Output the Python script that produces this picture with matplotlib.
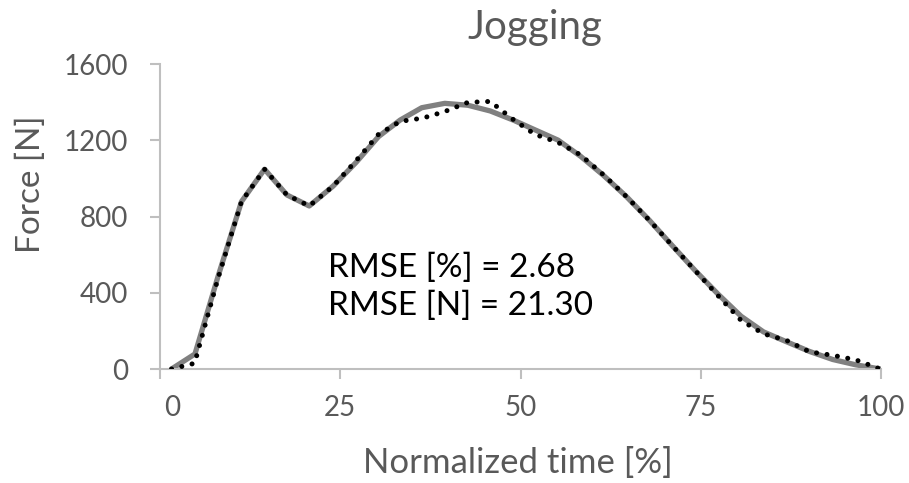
import matplotlib
matplotlib.use("Agg")
import matplotlib.pyplot as plt
import matplotlib.transforms as mtransforms

# Measured (reference) force curve - grey solid
time_measured = [1.6, 4.85, 8.0, 11.3, 14.5, 17.6, 20.7, 24.0, 27.2, 30.3, 33.3, 36.3,
                 39.5, 42.7, 45.8, 49.0, 52.0, 55.2, 58.3, 61.5, 64.7, 67.9, 71.0,
                 74.2, 77.4, 80.6, 83.7, 86.9, 90.1, 93.3, 96.5, 99.9]
force_measured = [0, 79, 480, 879, 1049, 914, 856, 960, 1085, 1220, 1307, 1372,
                  1395, 1385, 1355, 1307, 1256, 1202, 1118, 1017, 905, 780, 650,
                  518, 393, 277, 195, 143, 92, 50, 22, 0]

# Estimated force curve - black dotted
time_estimated = [1.6, 4.8, 8.0, 11.3, 14.5, 17.6, 20.7, 24.0, 27.2, 30.3, 33.3, 36.5,
                  39.5, 42.7, 45.8, 49.0, 52.0, 55.2, 58.3, 61.5, 64.7, 67.9, 71.0,
                  74.2, 77.4, 80.6, 83.7, 86.9, 90.1, 93.3, 96.5, 99.9]
force_estimated = [0, 30, 470, 879, 1049, 914, 856, 960, 1094, 1232, 1300, 1318,
                   1352, 1400, 1405, 1310, 1232, 1190, 1125, 1020, 905, 780, 650,
                   518, 385, 255, 185, 150, 90, 72, 48, 0]

x_ticks = [0, 25, 50, 75, 100]
y_ticks = [0, 400, 800, 1200, 1600]
title = "Jogging"
x_label = "Normalized time [%]"
y_label = "Force [N]"
annotation = "RMSE [%] = 2.68\nRMSE [N] = 21.30"

plt.rcParams['font.family'] = ['Lato', 'DejaVu Sans']
W, H = 909, 483
fig = plt.figure(figsize=(W / 100, H / 100), dpi=100)
ax = fig.add_axes([160 / W, 1 - 369 / H, (881 - 160) / W, (369 - 64.3) / H])

grey = '#808080'
txt = '#595959'
axc = '#BFBFBF'

ax.plot(time_measured, force_measured, color=grey, lw=3.8, solid_joinstyle='round',
        solid_capstyle='round', zorder=2)
ax.plot(time_estimated, force_estimated, color='black', lw=3.6,
        linestyle=(0, (0.01, 2.1)), dash_capstyle='round', zorder=3)

ax.set_xlim(0, 100)
ax.set_ylim(0, 1600)
ax.set_xticks(x_ticks)
ax.set_yticks(y_ticks)
ax.set_xticklabels([str(v) for v in x_ticks])
ax.set_yticklabels([str(v) for v in y_ticks])

for s in ['top', 'right']:
    ax.spines[s].set_visible(False)
for s in ['left', 'bottom']:
    ax.spines[s].set_color(axc)
    ax.spines[s].set_linewidth(1.5)
ax.tick_params(axis='both', colors=axc, length=7, width=1.5, direction='out',
               labelcolor=txt, labelsize=20)
ax.tick_params(axis='x', pad=12)
ax.tick_params(axis='y', pad=16)

# shift the "0" x tick label slightly right as in reference
lbl0 = ax.get_xticklabels()[0]
lbl0.set_transform(lbl0.get_transform() + mtransforms.ScaledTranslation(12 / 100, 0, fig.dpi_scale_trans))

fig.text(518 / W, 1 - 463 / H, x_label, fontsize=25, color=txt, ha='center', va='center')
fig.text(31 / W, 1 - 184 / H, y_label, fontsize=24, color=txt, ha='center', va='center',
         rotation=90)
fig.text(535 / W, 1 - 27 / H, title, fontsize=29, color=txt, ha='center', va='center')

ax.text(328 / W, 1 - 287 / H, annotation, transform=fig.transFigure, fontsize=24,
        color='black', ha='left', va='center', linespacing=1.3)

fig.savefig('out.png', dpi=100)
